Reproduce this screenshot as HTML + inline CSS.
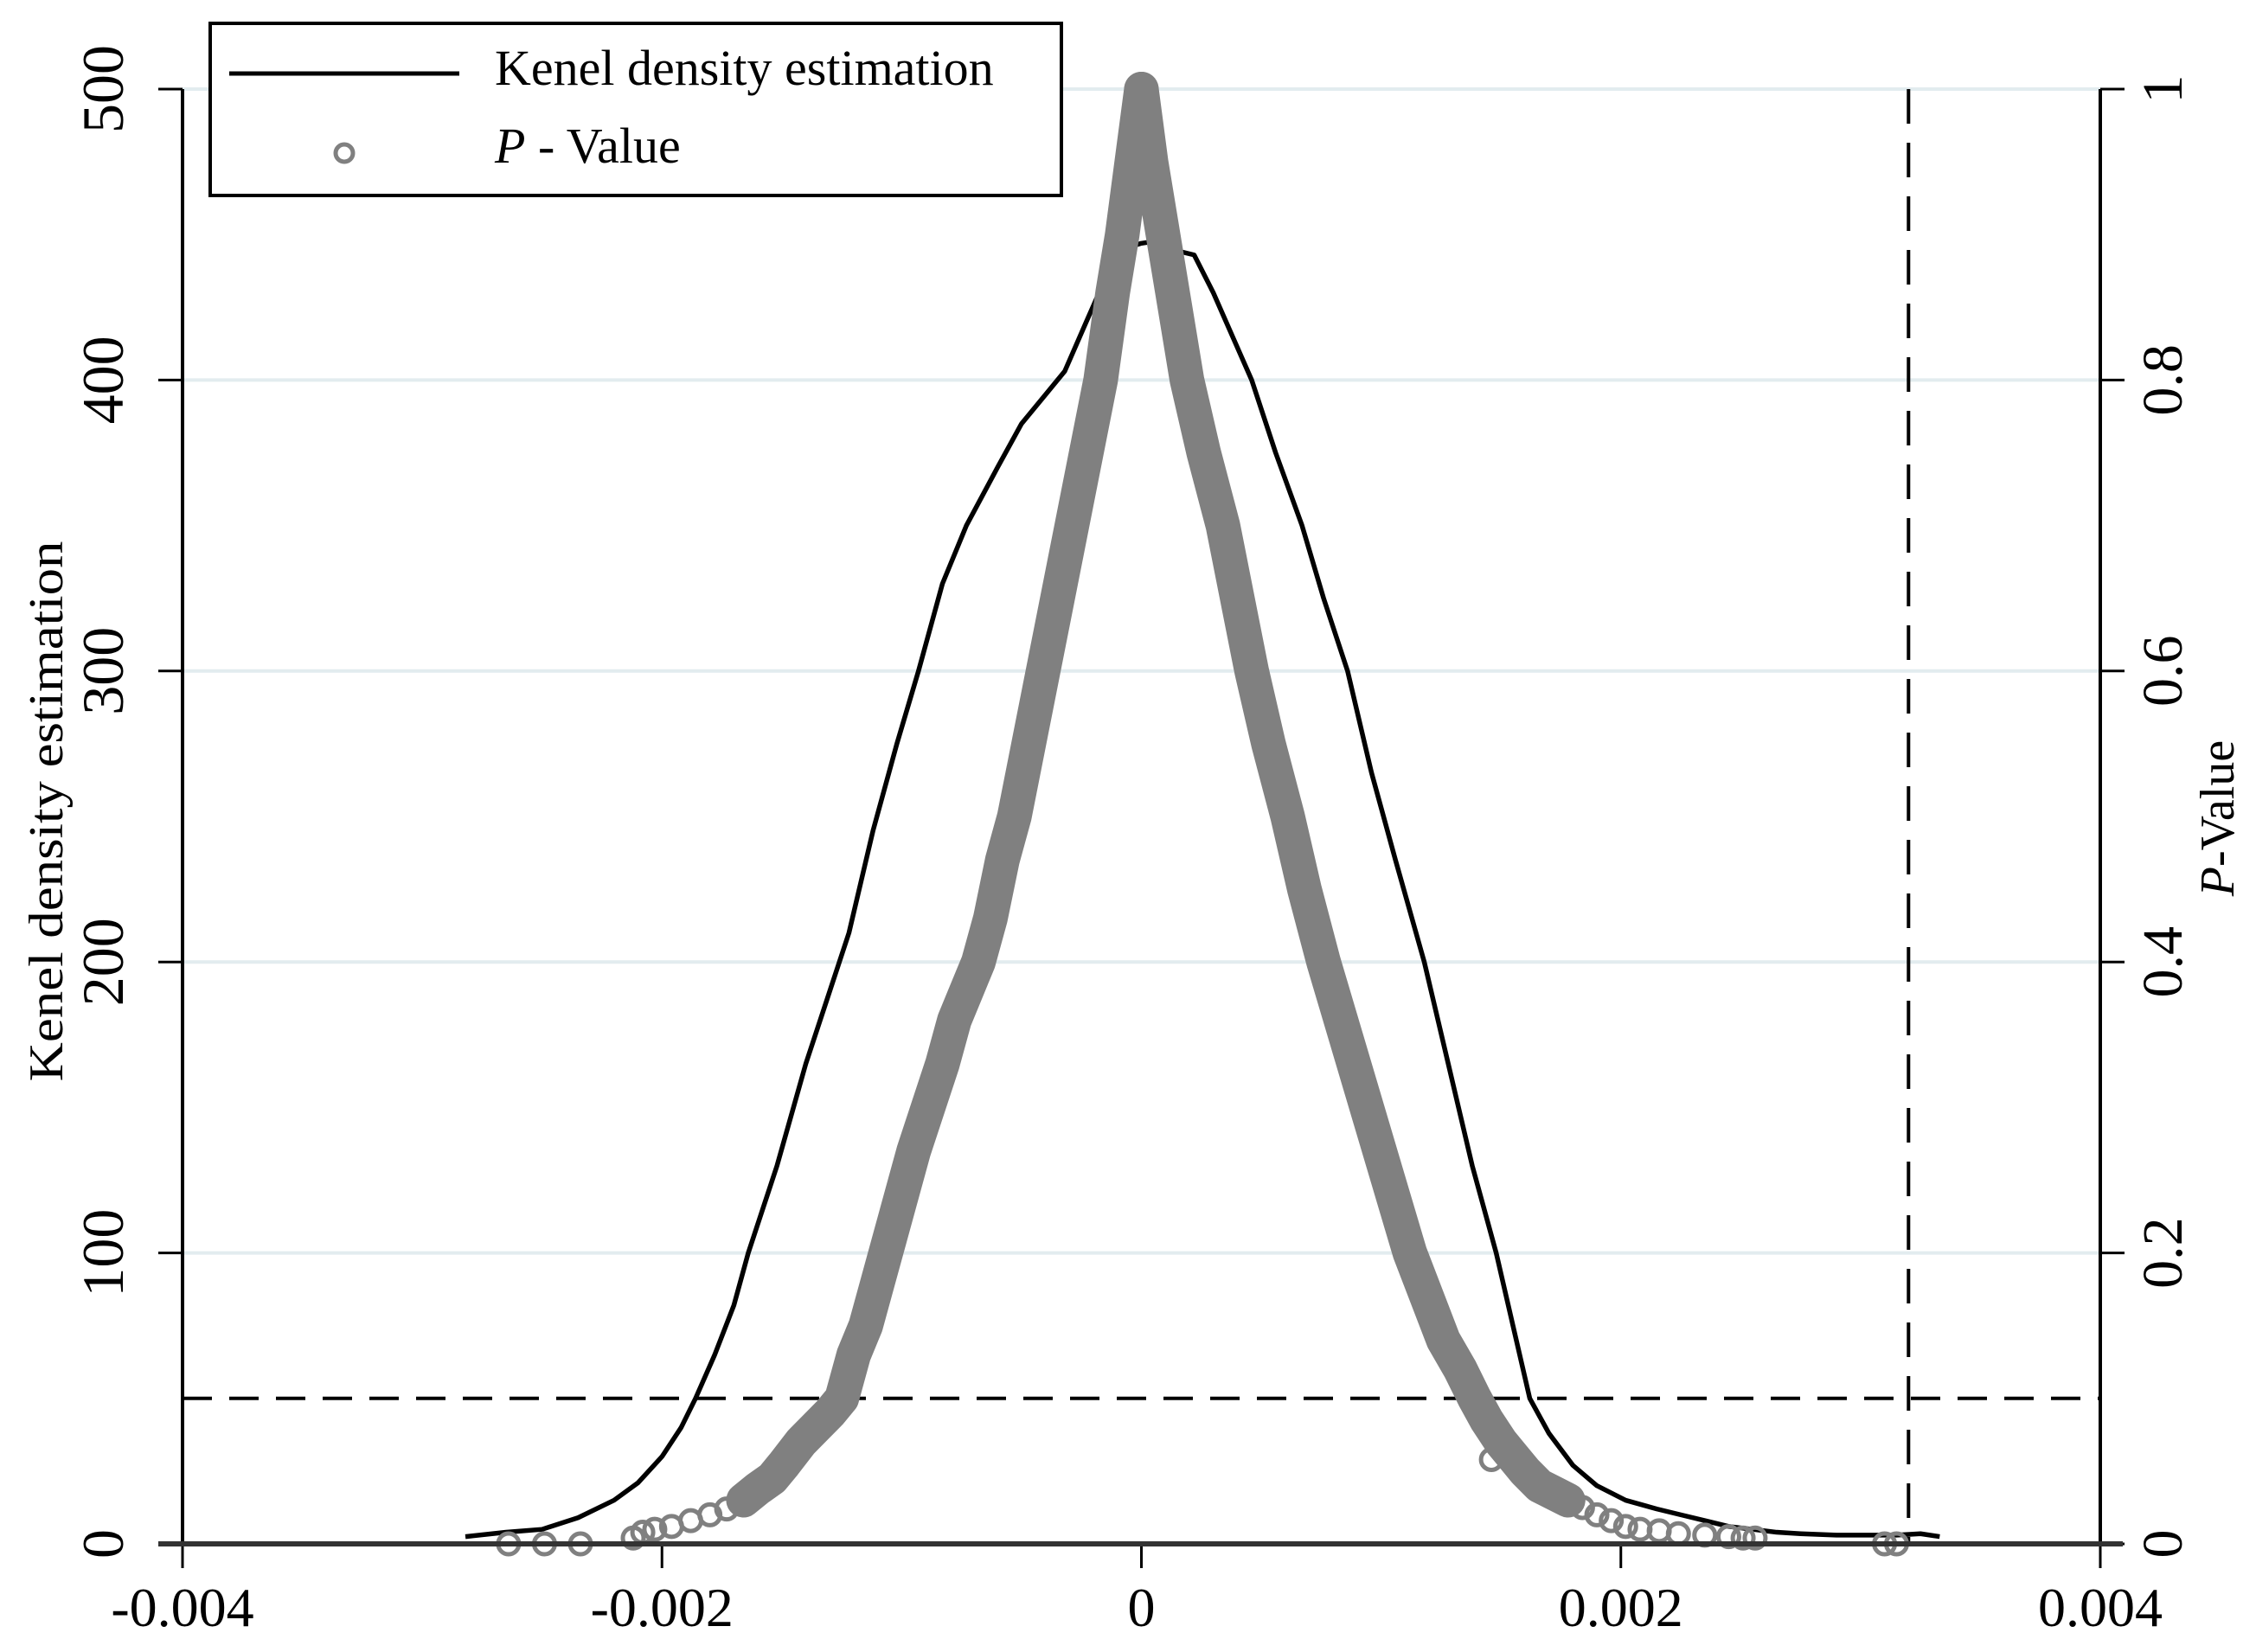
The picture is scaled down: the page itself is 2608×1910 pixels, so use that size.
<!DOCTYPE html>
<html><head><meta charset="utf-8"><style>
html,body{margin:0;padding:0;background:#fff;}
svg{display:block;font-family:"Liberation Serif",serif;}
</style></head><body>
<svg id="chart" width="2608" height="1910" viewBox="0 0 2608 1910">
<g id="grid"></g>
<g id="refs"></g>
<g id="kde"></g>
<g id="pval"></g>
<g id="axes"></g>
<text x="0" y="0" transform="translate(72,938) rotate(-90)" text-anchor="middle" font-size="56" textLength="625" lengthAdjust="spacingAndGlyphs">Kenel density estimation</text>
<text x="0" y="0" transform="translate(2582,946) rotate(-90)" text-anchor="middle" font-size="56"><tspan font-style="italic">P</tspan>-Value</text>
<g>
<rect x="243" y="27" width="984" height="199" fill="#fff" stroke="#000" stroke-width="4"/>
<line x1="265" y1="85" x2="531" y2="85" stroke="#000" stroke-width="5"/>
<text x="572" y="98" font-size="58">Kenel density estimation</text>
<circle cx="398" cy="177" r="10" fill="none" stroke="#808080" stroke-width="5"/>
<text x="572" y="188" font-size="58"><tspan font-style="italic">P</tspan> - Value</text>
</g>
</svg>
<script>
// x values in units of 1e-4
const kdeX = [-28.2,-26.5,-25,-23.5,-22,-21,-20,-19.2,-18.6,-17.8,-17,-16.4,-15.2,-14,-13,-12.2,-11.2,-10.2,-9.3,-8.3,-7.3,-6,-5,-4,-3.2,-2.3,-1.5,-0.8,0,0.8,1.2,2.2,3,3.8,4.6,5.6,6.7,7.6,8.6,9.6,10.6,11.8,12.8,13.8,14.8,15.5,16.2,17,18,19,20.2,21.5,22.5,23.5,24.5,25.5,26.5,27.5,29,30,31.5,32.5,33.3];
const kdeY = [2.5,4,5,9,15,21,30,40,50,65,82,100,130,165,190,210,245,275,300,330,350,370,385,395,403,420,435,445,447,448,445,443,430,415,400,375,350,325,300,265,235,200,165,130,100,75,50,38,27,20,15,12,10,8,6,5,4,3.5,3,3,3,3.5,2.5];
const pLeftX = [-26.4,-24.9,-23.4,-21.2,-20.8,-20.3,-19.6,-18.8,-18.0,-17.3,-16.6,-16.0,-15.4,-14.9,-14.2,-13.6,-13.0,-12.5,-12.0,-11.5,-11.0,-10.5,-10.0,-9.5,-8.9,-8.3,-7.8,-7.3,-6.8,-6.3,-5.8,-5.3,-4.7,-4.1,-3.5,-2.9,-2.3,-1.7,-1.2,-0.8,-0.4,0];
const pLeftY = [0,0,0,0.004,0.008,0.01,0.012,0.016,0.02,0.024,0.03,0.038,0.045,0.055,0.07,0.08,0.09,0.1,0.13,0.15,0.18,0.21,0.24,0.27,0.3,0.33,0.36,0.38,0.4,0.43,0.47,0.5,0.55,0.6,0.65,0.7,0.75,0.8,0.86,0.9,0.95,1];
const pRightX = [0,0.4,0.9,1.4,1.9,2.6,3.4,4.0,4.6,5.3,6.1,6.8,7.6,8.5,9.4,10.3,11.2,11.9,12.6,13.3,13.9,14.4,15.0,15.5,16.0,16.6,17.2,17.8,18.4,19.0,19.6,20.2,20.8,21.6,22.4,23.5,24.5,25.1,25.6,31.0,31.5];
const pRightY = [1,0.95,0.9,0.85,0.8,0.75,0.7,0.65,0.6,0.55,0.5,0.45,0.4,0.35,0.3,0.25,0.2,0.17,0.14,0.12,0.1,0.085,0.07,0.06,0.05,0.04,0.035,0.03,0.025,0.02,0.016,0.012,0.01,0.009,0.007,0.006,0.005,0.004,0.004,0,0];
const outX = [14.6,15.2];
const outY = [0.058,0.065];
const xTicks = [-0.004,-0.002,0,0.002,0.004];
const xTickLabels = ["-0.004","-0.002","0","0.002","0.004"];
const yTicks = [0,100,200,300,400,500];
const yTickLabels = ["0","100","200","300","400","500"];
const pTicks = [0,0.2,0.4,0.6,0.8,1];
const pTickLabels = ["0","0.2","0.4","0.6","0.8","1"];
const refDensity = 50;
const refX = 0.0032;

const NS="http://www.w3.org/2000/svg";
const L=211,R=2428,T=103,B=1785;
const X=v=>L+(v+0.004)/0.008*(R-L);
const Y=d=>B-d/500*(B-T);
const YP=p=>B-p*(B-T);
function mk(tag,attrs,parent){const e=document.createElementNS(NS,tag);for(const k in attrs)e.setAttribute(k,attrs[k]);parent.appendChild(e);return e;}
const grid=document.getElementById('grid'),axes=document.getElementById('axes'),refs=document.getElementById('refs'),kde=document.getElementById('kde'),pv=document.getElementById('pval');

yTicks.forEach((t,i)=>{
 if(t>0){const g=mk('line',{x1:L,x2:R,y1:Y(t),y2:Y(t),stroke:'#e2ecef','stroke-width':4},grid);
 
 }
 const tk=mk('line',{x1:L-28,x2:L,y1:Y(t),y2:Y(t),stroke:'#000','stroke-width':3},axes);
 
 
 const tx=mk('text',{transform:`translate(142,${Y(t)}) rotate(-90)`,'text-anchor':'middle','font-size':68},axes);
 tx.textContent=yTickLabels[i];
 
 
});
pTicks.forEach((t,i)=>{
 const tk=mk('line',{x1:R,x2:R+28,y1:YP(t),y2:YP(t),stroke:'#000','stroke-width':3},axes);
 
 
 const tx=mk('text',{transform:`translate(2522,${YP(t)}) rotate(-90)`,'text-anchor':'middle','font-size':66},axes);
 tx.textContent=pTickLabels[i];
 
 
});
xTicks.forEach((t,i)=>{
 const tk=mk('line',{x1:X(t),x2:X(t),y1:B,y2:B+28,stroke:'#000','stroke-width':3},axes);
 
 
 const tx=mk('text',{x:X(t),y:1880,'text-anchor':'middle','font-size':64},axes);
 tx.textContent=xTickLabels[i];
 
 
});
let a=mk('line',{x1:L,x2:L,y1:T,y2:B,stroke:'#000','stroke-width':4},axes);


a=mk('line',{x1:R,x2:R,y1:T,y2:B,stroke:'#000','stroke-width':4},axes);


a=mk('line',{x1:183,x2:2454,y1:B,y2:B,stroke:'#333','stroke-width':6},axes);



let r=mk('line',{x1:L,x2:R,y1:Y(refDensity),y2:Y(refDensity),stroke:'#000','stroke-width':4,'stroke-dasharray':'34 20'},refs);


r=mk('line',{x1:X(refX),x2:X(refX),y1:T,y2:B,stroke:'#000','stroke-width':4,'stroke-dasharray':'40 22'},refs);



const kp=mk('polyline',{points:kdeX.map((x,i)=>X(x*1e-4)+','+Y(kdeY[i])).join(' '),fill:'none',stroke:'#000','stroke-width':5.5,'stroke-linejoin':'round'},kde);



function band(xs,ys){
 const pts=[];xs.forEach((x,i)=>{if(ys[i]>=0.03)pts.push(X(x*1e-4)+','+YP(ys[i]));});
 const b=mk('polyline',{points:pts.join(' '),fill:'none',stroke:'#808080','stroke-width':40,'stroke-linejoin':'round','stroke-linecap':'round'},pv);
 
 
}
band(pLeftX,pLeftY);band(pRightX,pRightY);
function dots(xs,ys){
 xs.forEach((x,i)=>{
  const c=mk('circle',{cx:X(x*1e-4),cy:YP(ys[i]),r:12,fill:'none',stroke:'#808080','stroke-width':5},pv);
  
  
 });
}
dots(pLeftX,pLeftY);dots(pRightX,pRightY);dots(outX,outY);
</script>
</body></html>
